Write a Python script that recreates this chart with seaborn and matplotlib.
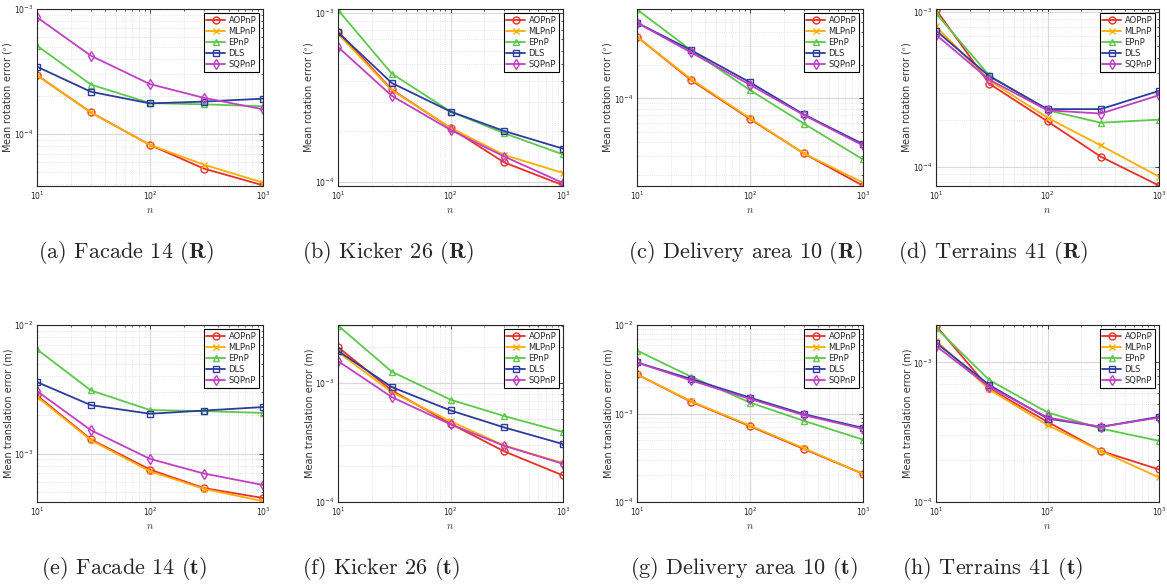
import numpy as np
import pandas as pd
import matplotlib
matplotlib.use("Agg")
import matplotlib.pyplot as plt
import seaborn as sns
from matplotlib.ticker import LogLocator, NullFormatter, LogFormatterMathtext

sns.set_style("white")
plt.rcParams['font.family'] = ['DejaVu Sans']
plt.rcParams['mathtext.fontset'] = 'cm'

n_points = [10, 30, 100, 300, 1000]
methods = ["AOPnP", "MLPnP", "EPnP", "DLS", "SQPnP"]

# (a) Facade 14 (R)
a_aopnp = [2.96e-4, 1.49e-4, 8.2e-5, 5.3e-5, 3.9e-5]
a_mlpnp = [2.96e-4, 1.49e-4, 8.2e-5, 5.7e-5, 4.1e-5]
a_epnp = [5.09e-4, 2.49e-4, 1.77e-4, 1.73e-4, 1.67e-4]
a_dls = [3.46e-4, 2.18e-4, 1.76e-4, 1.82e-4, 1.92e-4]
a_sqpnp = [8.58e-4, 4.23e-4, 2.51e-4, 1.95e-4, 1.58e-4]
# (b) Kicker 26 (R)
b_aopnp = [7.8e-4, 3.54e-4, 2.09e-4, 1.31e-4, 9.6e-5]
b_mlpnp = [7.56e-4, 3.51e-4, 2.1e-4, 1.45e-4, 1.135e-4]
b_epnp = [1.046e-3, 4.4e-4, 2.62e-4, 1.95e-4, 1.46e-4]
b_dls = [7.7e-4, 3.87e-4, 2.62e-4, 2.01e-4, 1.58e-4]
b_sqpnp = [6.31e-4, 3.25e-4, 2.04e-4, 1.42e-4, 9.9e-5]
# (c) Delivery area 10 (R)
c_aopnp = [3.64e-4, 1.47e-4, 6.5e-5, 3.16e-5, 1.61e-5]
c_mlpnp = [3.64e-4, 1.5e-4, 6.6e-5, 3.16e-5, 1.72e-5]
c_epnp = [6.44e-4, 2.75e-4, 1.19e-4, 5.9e-5, 2.79e-5]
c_dls = [4.88e-4, 2.75e-4, 1.4e-4, 7.15e-5, 3.85e-5]
c_sqpnp = [4.88e-4, 2.62e-4, 1.33e-4, 7.05e-5, 3.74e-5]
# (d) Terrains 41 (R)
d_aopnp = [1.03e-3, 3.43e-4, 1.96e-4, 1.16e-4, 7.55e-5]
d_mlpnp = [8.02e-4, 3.6e-4, 2.07e-4, 1.37e-4, 8.62e-5]
d_epnp = [9.75e-4, 3.88e-4, 2.31e-4, 1.92e-4, 2.01e-4]
d_dls = [7.55e-4, 3.83e-4, 2.35e-4, 2.35e-4, 3.08e-4]
d_sqpnp = [7.1e-4, 3.64e-4, 2.31e-4, 2.2e-4, 2.89e-4]
# (e) Facade 14 (t)
e_aopnp = [2.83e-3, 1.29e-3, 7.5e-4, 5.39e-4, 4.51e-4]
e_mlpnp = [2.77e-3, 1.27e-3, 7.28e-4, 5.31e-4, 4.26e-4]
e_epnp = [6.46e-3, 3.1e-3, 2.18e-3, 2.14e-3, 2.07e-3]
e_dls = [3.6e-3, 2.38e-3, 2.04e-3, 2.16e-3, 2.3e-3]
e_sqpnp = [3.06e-3, 1.52e-3, 9.09e-4, 6.99e-4, 5.7e-4]
# (f) Kicker 26 (t)
f_aopnp = [1.99e-3, 8.63e-4, 4.53e-4, 2.66e-4, 1.67e-4]
f_mlpnp = [1.81e-3, 8.35e-4, 4.75e-4, 2.98e-4, 2.12e-4]
f_epnp = [3.02e-3, 1.24e-3, 7.21e-4, 5.26e-4, 3.86e-4]
f_dls = [1.85e-3, 9.2e-4, 5.86e-4, 4.22e-4, 3.06e-4]
f_sqpnp = [1.52e-3, 7.59e-4, 4.48e-4, 2.96e-4, 2.09e-4]
# (g) Delivery area 10 (t)
g_aopnp = [2.77e-3, 1.36e-3, 7.18e-4, 3.97e-4, 2.08e-4]
g_mlpnp = [2.77e-3, 1.38e-3, 7.3e-4, 4.05e-4, 2.08e-4]
g_epnp = [5.15e-3, 2.61e-3, 1.33e-3, 8.26e-4, 5.07e-4]
g_dls = [3.77e-3, 2.46e-3, 1.51e-3, 9.83e-4, 6.87e-4]
g_sqpnp = [3.77e-3, 2.37e-3, 1.46e-3, 9.57e-4, 6.7e-4]
# (h) Terrains 41 (t)
h_aopnp = [1.83e-3, 6.5e-4, 3.75e-4, 2.32e-4, 1.71e-4]
h_mlpnp = [1.43e-3, 6.4e-4, 3.55e-4, 2.32e-4, 1.5e-4]
h_epnp = [1.77e-3, 7.47e-4, 4.38e-4, 3.36e-4, 2.74e-4]
h_dls = [1.38e-3, 6.88e-4, 3.96e-4, 3.45e-4, 4.07e-4]
h_sqpnp = [1.31e-3, 6.68e-4, 4.03e-4, 3.45e-4, 4.02e-4]

captions = [r"(a) Facade 14 ($\mathbf{R}$)", r"(b) Kicker 26 ($\mathbf{R}$)",
            r"(c) Delivery area 10 ($\mathbf{R}$)", r"(d) Terrains 41 ($\mathbf{R}$)",
            r"(e) Facade 14 ($\mathbf{t}$)", r"(f) Kicker 26 ($\mathbf{t}$)",
            r"(g) Delivery area 10 ($\mathbf{t}$)", r"(h) Terrains 41 ($\mathbf{t}$)"]
ylabel_rot = r"Mean rotation error ($^o$)"
ylabel_trans = "Mean translation error (m)"

panels = [
    [a_aopnp, a_mlpnp, a_epnp, a_dls, a_sqpnp],
    [b_aopnp, b_mlpnp, b_epnp, b_dls, b_sqpnp],
    [c_aopnp, c_mlpnp, c_epnp, c_dls, c_sqpnp],
    [d_aopnp, d_mlpnp, d_epnp, d_dls, d_sqpnp],
    [e_aopnp, e_mlpnp, e_epnp, e_dls, e_sqpnp],
    [f_aopnp, f_mlpnp, f_epnp, f_dls, f_sqpnp],
    [g_aopnp, g_mlpnp, g_epnp, g_dls, g_sqpnp],
    [h_aopnp, h_mlpnp, h_epnp, h_dls, h_sqpnp],
]
ylims = [(3.85e-5, 1e-3), (9.5e-5, 1.06e-3), (1.6e-5, 6.5e-4), (7.5e-5, 1.04e-3),
         (4.2e-4, 1e-2), (1e-4, 3.05e-3), (1e-4, 1e-2), (1e-4, 1.85e-3)]

colors = {"AOPnP": "#E8302A", "MLPnP": "#FFAE00", "EPnP": "#5CC94A",
          "DLS": "#2B3C9E", "SQPnP": "#C03FC4"}
markers = {"AOPnP": "o", "MLPnP": "x", "EPnP": "^", "DLS": "s", "SQPnP": "d"}

W, H = 1167, 586
fig = plt.figure(figsize=(W / 100, H / 100), dpi=100)

lefts = [37, 338, 637, 936]
widths = [226, 225, 226, 223]
tops = [9, 325]
ah = 177
cap_x = [126, 388, 745, 993, 124, 381, 744, 993]
cap_y = [252, 252, 252, 252, 569, 569, 569, 569]

for i, series in enumerate(panels):
    r, c = divmod(i, 4)
    ax = fig.add_axes([lefts[c] / W, 1 - (tops[r] + ah) / H, widths[c] / W, ah / H])
    ax.set_xscale("log")
    ax.set_yscale("log")
    rows = []
    for m, vals in zip(methods, series):
        for xv, yv in zip(n_points, vals):
            rows.append({"n": xv, "err": yv, "method": m})
    df = pd.DataFrame(rows)
    for m in methods:
        sub = df[df["method"] == m]
        sns.lineplot(data=sub, x="n", y="err", ax=ax, color=colors[m],
                     marker=markers[m], markerfacecolor="none",
                     markeredgecolor=colors[m], markeredgewidth=1.0,
                     markersize=5 if markers[m] != "x" else 4.5,
                     linewidth=1.3, label=m, errorbar=None)
    ax.set_xlim(10, 1000)
    ax.set_ylim(*ylims[i])
    ax.xaxis.set_major_locator(LogLocator(base=10, numticks=10))
    ax.yaxis.set_major_locator(LogLocator(base=10, numticks=10))
    ax.xaxis.set_minor_locator(LogLocator(base=10, subs=np.arange(2, 10), numticks=20))
    ax.yaxis.set_minor_locator(LogLocator(base=10, subs=np.arange(2, 10), numticks=20))
    ax.xaxis.set_major_formatter(LogFormatterMathtext())
    ax.yaxis.set_major_formatter(LogFormatterMathtext())
    ax.xaxis.set_minor_formatter(NullFormatter())
    ax.yaxis.set_minor_formatter(NullFormatter())
    ax.grid(True, which="major", color="#d9d9d9", linewidth=0.9, linestyle="-")
    ax.grid(True, which="minor", color="#d4d4d4", linewidth=0.5, linestyle=":")
    ax.set_axisbelow(True)
    ax.tick_params(which="both", direction="in", top=True, right=True,
                   labelsize=5.5, colors="#262626", pad=2.5)
    ax.tick_params(which="major", length=3, width=0.6)
    ax.tick_params(which="minor", length=1.5, width=0.5)
    for sp in ax.spines.values():
        sp.set_color("#262626")
        sp.set_linewidth(0.8)
        sp.set_visible(True)
    ax.set_xlabel(r"$n$", fontsize=7.5, color="#333333", labelpad=2)
    ax.set_ylabel(ylabel_rot if r == 0 else ylabel_trans, fontsize=7,
                  color="#333333", labelpad=0.5)
    leg = ax.legend(loc="upper right", fontsize=6, frameon=True, fancybox=False,
                    edgecolor="#000000", framealpha=1, borderpad=0.3,
                    labelspacing=0.25, handlelength=2.3, handletextpad=0.4,
                    borderaxespad=0.5)
    leg.get_frame().set_linewidth(0.8)
    fig.text(cap_x[i] / W, 1 - cap_y[i] / H, captions[i], ha="center", va="center",
             fontsize=16, family="cmr10")

fig.savefig("out.png", dpi=100)
